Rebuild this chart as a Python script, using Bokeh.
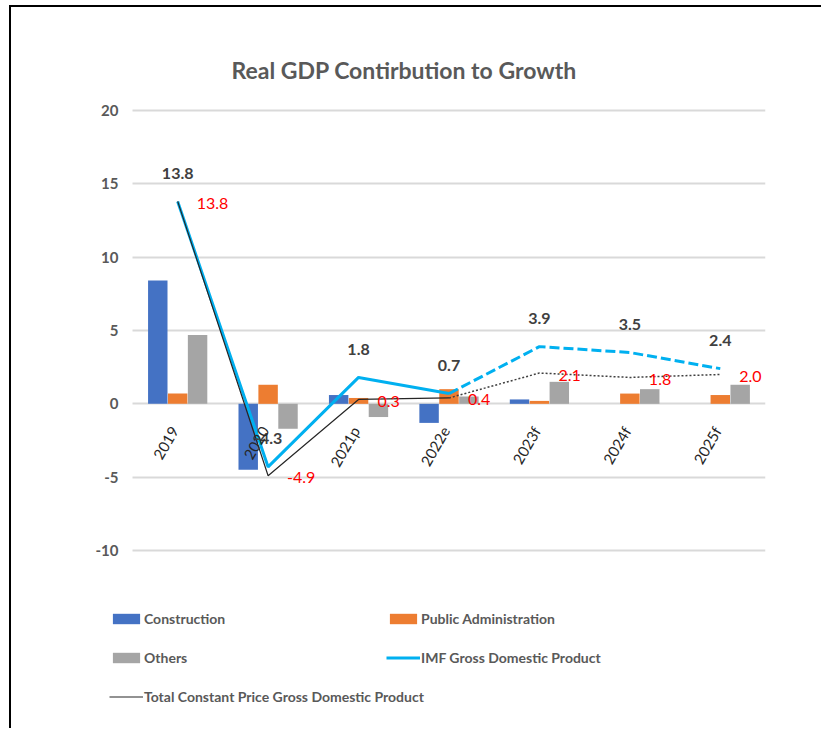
import math
from bokeh.plotting import figure
from bokeh.models import (ColumnDataSource, Legend, LegendItem, FixedTicker, Range1d)
from bokeh.transform import dodge
from bokeh.core.properties import value
from bokeh.embed import file_html
from bokeh.resources import INLINE

# ---------------- data ----------------
categories = ["2019", "2020", "2021p", "2022e", "2023f", "2024f", "2025f"]
construction = [8.4, -4.5, 0.6, -1.3, 0.3, 0.0, 0.0]
public_admin = [0.7, 1.3, 0.4, 1.0, 0.2, 0.7, 0.6]
others = [4.7, -1.7, -0.9, 0.5, 1.5, 1.0, 1.3]
imf_gdp = [13.8, -4.3, 1.8, 0.7, 3.9, 3.5, 2.4]
total_gdp = [13.8, -4.9, 0.3, 0.4, 2.1, 1.8, 2.0]
y_ticks = [-10, -5, 0, 5, 10, 15, 20]
n_actual = 4  # 2019..2022e drawn solid, forecasts dashed

FONT = "Lato"
C_CON, C_PUB, C_OTH, C_IMF, C_TOT = "#4472C4", "#ED7D31", "#A5A5A5", "#00B0F0", "#262626"

pos = list(range(len(categories)))
src = ColumnDataSource(dict(pos=pos, cat=categories, con=construction, pub=public_admin,
                            oth=others, imf=imf_gdp, tot=total_gdp,
                            imf_lbl=["%.1f" % v for v in imf_gdp],
                            tot_lbl=["%.1f" % v for v in total_gdp],
                            zero=[0] * len(categories)))
solid = ColumnDataSource(dict(pos=pos[:n_actual], imf=imf_gdp[:n_actual],
                              tot=total_gdp[:n_actual]))
fcst = ColumnDataSource(dict(pos=pos[n_actual - 1:], imf=imf_gdp[n_actual - 1:],
                             tot=total_gdp[n_actual - 1:]))

n = len(categories)
# the plotting frame also holds the axis labels and the legend area
p = figure(x_range=Range1d(-0.964, n - 0.5), y_range=Range1d(-21.93, 20.68),
           width=812, height=723, output_backend="svg", toolbar_location=None,
           min_border_left=79, min_border_right=58, min_border_top=93,
           min_border_bottom=5)
p.styles = {"margin-left": "9px", "margin-top": "5px",
            "border-left": "2px solid black", "border-top": "2px solid black"}
p.outline_line_color = None

p.title.text = "Real GDP Contirbution to Growth"
p.title.text_font = FONT
p.title.text_font_size = "23px"
p.title.text_font_style = "bold"
p.title.text_color = "#595959"
p.title.align = "left"
p.title.offset = 141
p.title.standoff = 34

p.xaxis.visible = False
p.xgrid.visible = False
p.yaxis.fixed_location = -0.5
p.yaxis.ticker = FixedTicker(ticks=y_ticks)
p.yaxis.major_label_overrides = {t: str(t) for t in y_ticks}
p.yaxis.axis_line_color = None
p.yaxis.major_tick_line_color = None
p.yaxis.minor_tick_line_color = None
p.yaxis.major_tick_out = 0
p.yaxis.major_label_standoff = 14
p.yaxis.major_label_text_font = FONT
p.yaxis.major_label_text_font_size = "15px"
p.yaxis.major_label_text_font_style = "bold"
p.yaxis.major_label_text_color = "#595959"
p.ygrid.ticker = FixedTicker(ticks=y_ticks)
p.ygrid.cross_bounds = (-0.5, n - 0.5)
p.ygrid.grid_line_color = "#D9D9D9"
p.ygrid.grid_line_width = 2

bw = 0.215
r_con = p.vbar(x=dodge("pos", -0.22), top="con", width=bw,
               source=src, fill_color=C_CON, line_color=None)
r_pub = p.vbar(x=dodge("pos", 0.0), top="pub", width=bw,
               source=src, fill_color=C_PUB, line_color=None)
r_oth = p.vbar(x=dodge("pos", 0.22), top="oth", width=bw,
               source=src, fill_color=C_OTH, line_color=None)

r_imf = p.line("pos", "imf", source=solid, line_color=C_IMF, line_width=3)
p.line("pos", "imf", source=fcst, line_color=C_IMF, line_width=3, line_dash="10 4")
r_tot = p.line("pos", "tot", source=solid, line_color=C_TOT, line_width=1.2)
p.line("pos", "tot", source=fcst, line_color="#404040", line_width=1.5, line_dash="2 2")

# data labels
p.text(x="pos", y="imf", text="imf_lbl", source=src, text_align="center",
       text_baseline="middle", y_offset=-28, text_font=value(FONT),
       text_font_size="16px", text_font_style="bold", text_color="#404040")
p.text(x="pos", y="tot", text="tot_lbl", source=src, text_align="left",
       text_baseline="middle", x_offset=19, y_offset=2, text_font=value(FONT),
       text_font_size="16px", text_color="#FF0000")

# category labels along the zero line
p.text(x="pos", y="zero", text="cat", source=src, angle=math.pi / 3,
       text_align="right", text_baseline="middle", x_offset=-3, y_offset=24,
       text_font=value(FONT), text_font_size="15px", text_color="#262626")

legend_style = dict(background_fill_alpha=0, border_line_color=None, padding=0,
                    margin=0, spacing=19, glyph_width=34, glyph_height=13,
                    label_height=20, label_standoff=1, label_text_font=FONT,
                    label_text_font_size="14px", label_text_color="#595959",
                    label_text_font_style="bold")
leg1 = Legend(items=[LegendItem(label="Construction", renderers=[r_con]),
                     LegendItem(label="Others", renderers=[r_oth]),
                     LegendItem(label="Total Constant Price Gross Domestic Product",
                                renderers=[r_tot])],
              location=(19, 19), **legend_style)
leg2 = Legend(items=[LegendItem(label="Public Administration", renderers=[r_pub]),
                     LegendItem(label="IMF Gross Domestic Product", renderers=[r_imf])],
              location=(296, 58), **legend_style)
p.add_layout(leg1, "center")
p.add_layout(leg2, "center")

open("out.html", "w").write(file_html(p, INLINE))
